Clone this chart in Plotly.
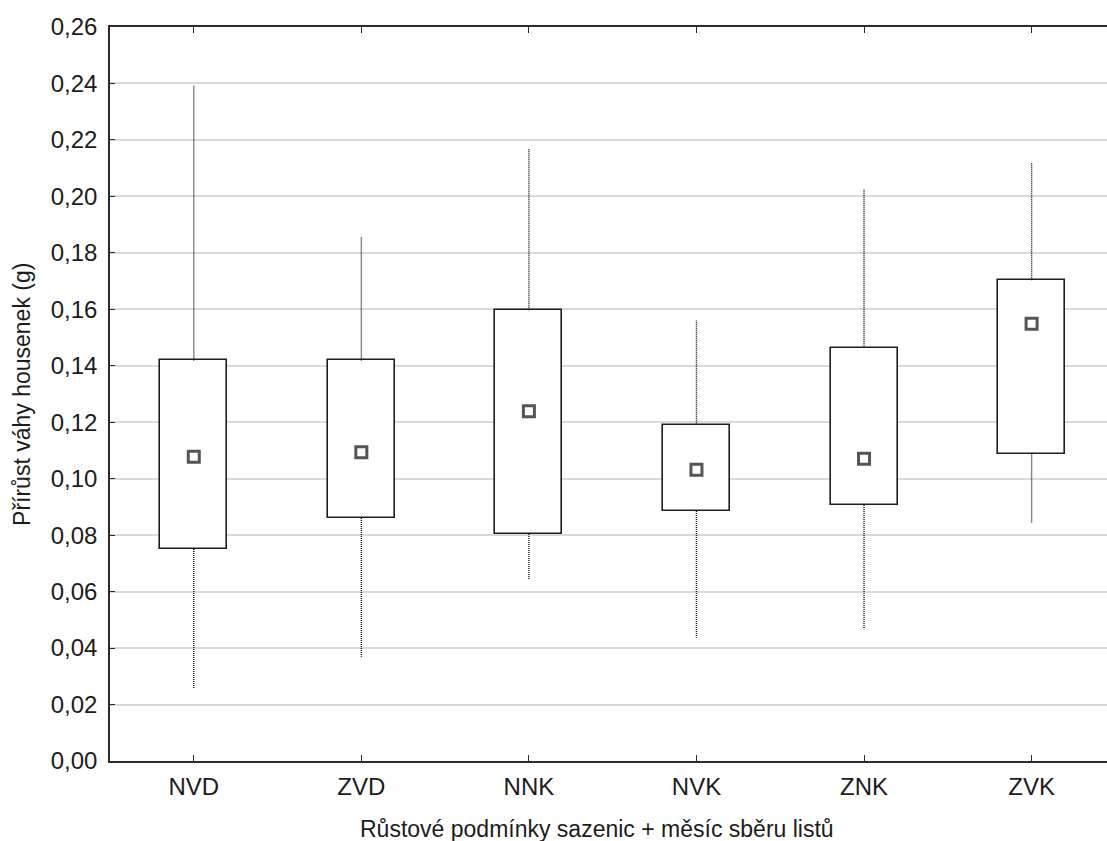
import plotly.graph_objects as go

# Growth conditions of seedlings + month of leaf collection
categories = ["NVD", "ZVD", "NNK", "NVK", "ZNK", "ZVK"]

# Summary statistics of caterpillar weight gain (g)
medians = [0.1078, 0.1094, 0.1239, 0.1032, 0.1071, 0.1549]
q1 = [0.0751, 0.0861, 0.0804, 0.0886, 0.0907, 0.1089]
q3 = [0.1419, 0.1419, 0.1597, 0.1191, 0.1464, 0.1703]
w_min = [0.0259, 0.0369, 0.0645, 0.0437, 0.0467, 0.0845]
w_max = [0.2392, 0.1855, 0.2170, 0.1561, 0.2025, 0.2118]

y_ticks = [i * 0.02 for i in range(14)]

x_title = "Růstové podmínky sazenic + měsíc sběru listů"
y_title = "Přírůst váhy housenek (g)"

FONT = "Liberation Sans, Arial, sans-serif"
DARK = "#2b2b2b"
TEXT = "#1c1c1c"

fig = go.Figure()

# Whiskers: dotted segments from the box edges to min/max
wx, wy = [], []
for i, c in enumerate(categories):
    wx += [c, c, None, c, c, None]
    wy += [q3[i], w_max[i], None, q1[i], w_min[i], None]
fig.add_trace(go.Scatter(
    x=wx, y=wy, mode="lines",
    line=dict(color="#111111", width=1.4, dash="1px,1px"),
    hoverinfo="skip", showlegend=False,
))

# Boxes: q1 .. q3
fig.add_trace(go.Bar(
    x=categories,
    y=[b - a for a, b in zip(q1, q3)],
    base=q1,
    width=0.4,
    marker=dict(color="white", line=dict(color="#1e1e1e", width=1.6)),
    showlegend=False,
))

# Median markers
fig.add_trace(go.Scatter(
    x=categories, y=medians, mode="markers",
    marker=dict(symbol="square", size=11, color="white",
                line=dict(color="#555555", width=3)),
    showlegend=False,
))

fig.update_layout(
    width=1107, height=841,
    margin=dict(l=110, r=0, t=27, b=80),
    paper_bgcolor="white", plot_bgcolor="white",
    separators=", ",
    font=dict(family=FONT, size=20, color=TEXT),
    bargap=0,
    annotations=[
        dict(text=x_title, xref="paper", yref="paper", x=0.488, y=-0.0926,
             xanchor="center", yanchor="middle", showarrow=False,
             font=dict(family=FONT, size=23, color=TEXT)),
        dict(text=y_title, xref="paper", yref="paper", x=-0.0883, y=0.5,
             xanchor="center", yanchor="middle", showarrow=False, textangle=-90,
             font=dict(family=FONT, size=23, color=TEXT)),
    ],
)

fig.update_xaxes(
    type="category",
    range=[-0.5, 5.45],
    showgrid=False,
    showline=True, linecolor=DARK, linewidth=2,
    mirror="ticks",
    ticks="inside", ticklen=6, tickcolor=DARK, tickwidth=1,
    tickfont=dict(family=FONT, size=24, color=TEXT),
    ticklabelstandoff=3,
    zeroline=False,
)

fig.update_yaxes(
    range=[0, 0.26],
    tickvals=y_ticks,
    tickformat=".2f",
    showgrid=True, gridcolor="#dadada", gridwidth=1.5,
    showline=True, linecolor=DARK, linewidth=1.5,
    ticks="inside", ticklen=5, tickcolor=DARK, tickwidth=1,
    tickfont=dict(family=FONT, size=24, color=TEXT),
    ticklabelstandoff=6,
    zeroline=False,
)

fig.write_html("out.html")
